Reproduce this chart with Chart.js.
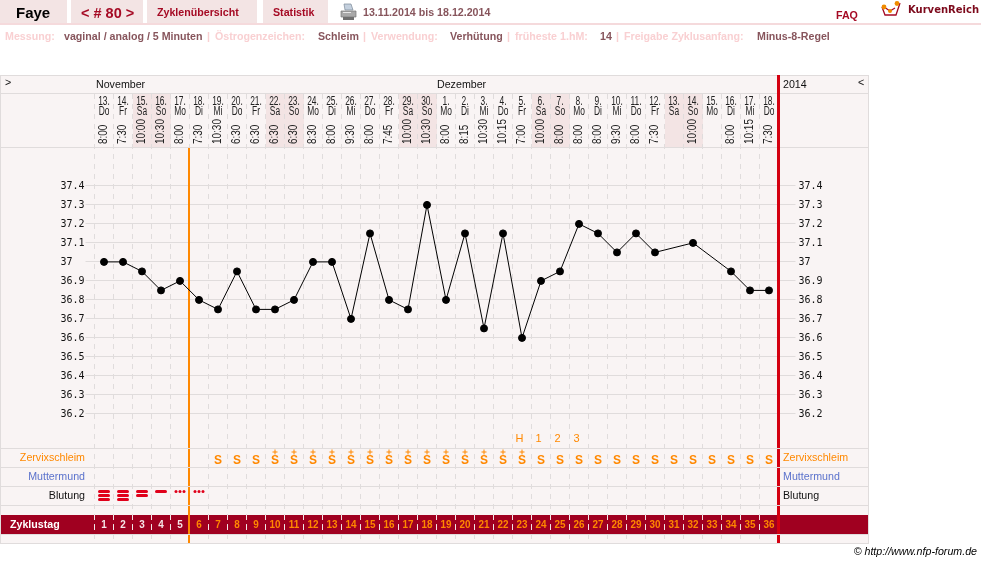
<!DOCTYPE html>
<html>
<head>
<meta charset="utf-8">
<title>Faye</title>
<script src="https://cdn.jsdelivr.net/npm/chart.js@4"></script>
<style>
  html, body { margin: 0; padding: 0; background: #fff; overflow: hidden; }
  body { width: 981px; height: 563px; position: relative; font-family: "Liberation Sans", Arial, sans-serif; }
  #myChart { position: absolute; left: 0; top: 0; }
  .tab { position: absolute; top: 0; height: 23px; background: #f3e4e4; }
  .t { position: absolute; white-space: nowrap; font-size: 10.67px; font-weight: bold; line-height: 14px; }
  .lab { color: #f9d0d2; }
  .val { color: #87555c; }
  .red { color: #a50a24; }
</style>
</head>
<body>
<canvas id="myChart" width="981" height="563"></canvas>

<!-- Kopfzeile -->
<div class="tab" style="left:0;width:67px"></div>
<div class="tab" style="left:71px;width:72px"></div>
<div class="tab" style="left:147px;width:110px"></div>
<div class="tab" style="left:263px;width:65px"></div>
<div style="position:absolute;left:0;top:23px;width:981px;height:2px;background:#f5dadc"></div>
<div class="t" style="left:16px;top:6px;font-size:15px;color:#000">Faye</div>
<div class="t red" style="left:81px;top:6px;font-size:14.5px">&lt; # 80 &gt;</div>
<div class="t red" style="left:157px;top:5px">Zyklenübersicht</div>
<div class="t red" style="left:273px;top:5px">Statistik</div>
<svg style="position:absolute;left:340px;top:3px" width="17" height="18" viewBox="0 0 17 18">
  <path d="M4 1h7l2 6H5z" fill="#c4d0de" stroke="#7d8a98" stroke-width=".7"/>
  <path d="M1 8h15v6H1z" fill="#a9a9a9" stroke="#777" stroke-width=".7"/>
  <path d="M3 14h11v3H3z" fill="#6f6f6f"/>
  <path d="M3 9h8v1H3z" fill="#e8e8e8"/>
</svg>
<div class="t val" style="left:363px;top:5px">13.11.2014 bis 18.12.2014</div>
<div class="t red" style="left:836px;top:8px">FAQ</div>
<svg style="position:absolute;left:880px;top:0" width="26" height="18" viewBox="0 0 26 18">
  <path d="M2 7l3 8h11l4-12" fill="none" stroke="#a50a24" stroke-width="1.3"/>
  <path d="M4 7l6 4 5-3" fill="none" stroke="#a50a24" stroke-width="1.2"/>
  <circle cx="4" cy="7" r="2.4" fill="#f08c00"/>
  <circle cx="10" cy="11" r="2" fill="#f08c00"/>
  <circle cx="17" cy="3.5" r="2.4" fill="#f08c00"/>
</svg>
<div class="t" style="left:908px;top:3px;font-family:'DejaVu Sans';font-size:10px;color:#7d0a1c">KurvenReich</div>

<div class="t lab" style="left:5px;top:29px">Messung:</div>
<div class="t val" style="left:64px;top:29px">vaginal / analog / 5 Minuten</div>
<div class="t lab" style="left:207px;top:29px">|</div>
<div class="t lab" style="left:215px;top:29px">Östrogenzeichen:</div>
<div class="t val" style="left:318px;top:29px">Schleim</div>
<div class="t lab" style="left:363px;top:29px">|</div>
<div class="t lab" style="left:371px;top:29px">Verwendung:</div>
<div class="t val" style="left:450px;top:29px">Verhütung</div>
<div class="t lab" style="left:507px;top:29px">|</div>
<div class="t lab" style="left:515px;top:29px">früheste 1.hM:</div>
<div class="t val" style="left:600px;top:29px">14</div>
<div class="t lab" style="left:616px;top:29px">|</div>
<div class="t lab" style="left:624px;top:29px">Freigabe Zyklusanfang:</div>
<div class="t val" style="left:757px;top:29px">Minus-8-Regel</div>

<div class="t" style="right:4px;top:544px;font-weight:normal;font-style:italic;color:#000">© http://www.nfp-forum.de</div>

<script>
// Zyklusdaten
const cycleDays = ['1','2','3','4','5','6','7','8','9','10','11','12','13','14','15','16','17','18',
    '19','20','21','22','23','24','25','26','27','28','29','30','31','32','33','34','35','36'];
const dates = ['13.','14.','15.','16.','17.','18.','19.','20.','21.','22.','23.','24.','25.','26.','27.','28.','29.','30.',
    '1.','2.','3.','4.','5.','6.','7.','8.','9.','10.','11.','12.','13.','14.','15.','16.','17.','18.'];
const weekdays = ['Do','Fr','Sa','So','Mo','Di','Mi','Do','Fr','Sa','So','Mo','Di','Mi','Do','Fr','Sa','So',
    'Mo','Di','Mi','Do','Fr','Sa','So','Mo','Di','Mi','Do','Fr','Sa','So','Mo','Di','Mi','Do'];
const times = ['8:00','7:30','10:00','10:30','8:00','7:30','10:30','6:30','6:30','6:30','6:30','8:30','8:00','9:30','8:00','7:45','10:00','10:30',
    '8:00','8:15','10:30','10:15','7:00','10:00','8:00','8:00','8:00','9:30','8:00','7:30','','10:00','','8:00','10:15','7:30'];
const temperatures = [37.0,37.0,36.95,36.85,36.9,36.8,36.75,36.95,36.75,36.75,36.8,37.0,37.0,36.7,37.15,36.8,36.75,37.3,
    36.8,37.15,36.65,37.15,36.6,36.9,36.95,37.2,37.15,37.05,37.15,37.05,null,37.1,null,36.95,36.85,36.85];
const mucus = ['','','','','','','S','S','S','S+','S+','S+','S+','S+','S+','S+','S+','S+',
    'S+','S+','S+','S+','S+','S','S','S','S','S','S','S','S','S','S','S','S','S'];
const bleeding = [3,3,2,1,'dots','dots'];
const peakLabels = {22: 'H', 23: '1', 24: '2', 25: '3'};
const yTicks = [36.2,36.3,36.4,36.5,36.6,36.7,36.8,36.9,37,37.1,37.2,37.3,37.4];

const sans = '"Liberation Sans", Arial, sans-serif';
const lineColor = '#e0dcdc';
const orange = '#ff8800';
const tableBg = '#f9f4f4';
const firstHighDay = 5;  // Spalte, vor der die orange Linie steht

function fmtTick(v) {
    // "37" bleibt linksbuendig wie die anderen Werte
    return v === 37 ? '37  ' : v.toFixed(1);
}

function hLine(c, y, x1, x2) {
    c.fillStyle = lineColor;
    c.fillRect(x1, y, x2 - x1, 1);
}

// Tabelle um das Diagramm herum
const tablePlugin = {
    id: 'cycleTable',
    beforeDraw(chart) {
        const c = chart.ctx;
        const x = chart.scales.x;
        const colW = x.getPixelForValue(1) - x.getPixelForValue(0);
        c.save();
        c.fillStyle = tableBg;
        c.fillRect(0, 75, 869, 469);

        // Wochenenden
        c.fillStyle = '#f3e4e4';
        weekdays.forEach((d, i) => {
            if (d === 'Sa' || d === 'So') {
                c.fillRect(x.getPixelForValue(i) - colW / 2 + 0.5, 94, colW, 53);
            }
        });

        hLine(c, 75, 0, 869);
        hLine(c, 93, 0, 869);
        hLine(c, 147, 0, 869);
        hLine(c, 543, 0, 869);
        c.fillRect(0, 75, 1, 469);
        c.fillRect(868, 75, 1, 469);

        // Zyklustag-Balken
        c.fillStyle = '#a00020';
        c.fillRect(1, 515, 867, 19);

        // gestrichelte Spaltenlinien
        c.lineWidth = 1;
        c.setLineDash([5, 5]);
        for (let i = 0; i < cycleDays.length; i++) {
            const px = x.getPixelForValue(i) - colW / 2;
            c.strokeStyle = lineColor;
            c.beginPath();
            c.moveTo(px, 94);
            c.lineTo(px, 543);
            c.stroke();
            c.strokeStyle = '#f4e6e8';
            c.beginPath();
            c.moveTo(px, 515);
            c.lineTo(px, 534);
            c.stroke();
        }
        c.setLineDash([]);
        c.restore();
    },
    beforeDatasetsDraw(chart) {
        const c = chart.ctx;
        const x = chart.scales.x;
        const colW = x.getPixelForValue(1) - x.getPixelForValue(0);
        c.save();

        // Linien fuer Zyklusbeginn und Zyklusende
        const orangeX = Math.floor(x.getPixelForValue(firstHighDay) - colW / 2) - 1;
        c.fillStyle = orange;
        c.fillRect(orangeX, 148, 2, 395);
        const endX = Math.floor(x.getPixelForValue(cycleDays.length - 1) + colW / 2) - 1;
        c.fillStyle = '#d40010';
        c.fillRect(endX, 75, 3, 468);

        [448, 467, 486, 505, 534].forEach(y => hLine(c, y, 0, 869));

        c.textBaseline = 'middle';

        // Monate und Jahr
        c.font = '10.67px ' + sans;
        c.fillStyle = '#111';
        c.textAlign = 'left';
        c.fillText('>', 5, 83);
        c.fillText('November', 96, 85.5);
        c.fillText('Dezember', 437, 85.5);
        c.fillText('2014', 783, 85.5);
        c.fillText('<', 858, 83);

        // Datum, Wochentag, Messzeit je Spalte
        dates.forEach((d, i) => {
            const px = x.getPixelForValue(i);
            c.textAlign = 'center';
            c.fillStyle = '#222';
            c.save();
            c.translate(px, 0);
            c.scale(0.7, 1);
            c.font = '12px ' + sans;
            c.fillText(d, 0, 102);
            c.fillText(weekdays[i], 0, 111.5);
            c.restore();
            c.save();
            c.translate(px - 0.5, 144);
            c.rotate(-Math.PI / 2);
            c.scale(0.83, 1);
            c.textAlign = 'left';
            c.font = '12px ' + sans;
            c.fillText(times[i], 0, 0);
            c.restore();
        });

        // Zeilentitel
        c.font = '10.67px ' + sans;
        [['Zervixschleim', orange, 458.5], ['Muttermund', '#5b72cc', 477.5], ['Blutung', '#111', 496.5]].forEach(r => {
            c.fillStyle = r[1];
            c.textAlign = 'right';
            c.fillText(r[0], 85, r[2]);
            c.textAlign = 'left';
            c.fillText(r[0], 783, r[2]);
        });

        // Hochlagen-Zaehlung
        c.fillStyle = orange;
        c.textAlign = 'center';
        c.font = '11px ' + sans;
        Object.keys(peakLabels).forEach(i => {
            c.fillText(peakLabels[i], x.getPixelForValue(+i) - 2.5, 439);
        });

        // Schleim
        mucus.forEach((m, i) => {
            if (!m) return;
            const px = x.getPixelForValue(i);
            c.font = 'bold 12px ' + sans;
            c.fillText('S', px, 460.5);
            if (m === 'S+') {
                c.fillRect(px - 2.5, 451.5, 5, 1);
                c.fillRect(px - 0.5, 449.5, 1, 5);
            }
        });

        // Blutung
        c.fillStyle = '#e0001a';
        bleeding.forEach((b, i) => {
            const px = x.getPixelForValue(i);
            if (b === 'dots') {
                [-4, 0, 4].forEach(dx => {
                    c.beginPath();
                    c.arc(px + dx, 491.5, 1.5, 0, Math.PI * 2);
                    c.fill();
                });
                return;
            }
            for (let n = 0; n < b; n++) {
                c.beginPath();
                c.roundRect(px - 6, 490 + n * 4, 12, 3, 1.5);
                c.fill();
            }
        });

        // Zyklustag-Zeile
        c.font = 'bold 10.67px ' + sans;
        c.fillStyle = '#fff';
        c.textAlign = 'left';
        c.fillText('Zyklustag', 10, 525);
        c.textAlign = 'center';
        c.font = 'bold 11px ' + sans;
        cycleDays.forEach((d, i) => {
            c.fillStyle = i < firstHighDay ? '#f6e6e8' : orange;
            c.save();
            c.translate(x.getPixelForValue(i), 525);
            c.scale(0.9, 1);
            c.fillText(d, 0, 0);
            c.restore();
        });
        c.restore();
    }
};

const ctx = document.getElementById('myChart').getContext('2d');
const chart = new Chart(ctx, {
    type: 'line',
    data: {
        labels: cycleDays,
        datasets: [{
            label: 'Temperatur',
            data: temperatures,
            borderColor: '#000',
            backgroundColor: '#000',
            borderWidth: 1,
            pointRadius: 3.5,
            pointBackgroundColor: '#000',
            spanGaps: true,
            fill: false,
            tension: 0,
            yAxisID: 'y'
        }]
    },
    options: {
        responsive: false,
        animation: false,
        layout: { padding: { left: 0, right: 0, top: 147.9, bottom: 111.1 } },
        plugins: { legend: { display: false }, tooltip: { enabled: false } },
        scales: {
            x: { type: 'category', display: false, offset: true },
            y: {
                position: 'left',
                min: 36,
                max: 37.6,
                afterFit: s => { s.width = 94.5; },
                afterBuildTicks: s => { s.ticks = yTicks.map(v => ({ value: v })); },
                border: { display: false },
                grid: { color: lineColor, lineWidth: 1, tickLength: 9 },
                ticks: {
                    padding: 1,
                    labelOffset: 1,
                    color: '#111',
                    font: { family: '"DejaVu Sans Mono"', size: 10 },
                    autoSkip: false,
                    callback: fmtTick
                }
            },
            yRight: {
                position: 'right',
                min: 36,
                max: 37.6,
                afterFit: s => { s.width = 202.5; },
                afterBuildTicks: s => { s.ticks = yTicks.map(v => ({ value: v })); },
                border: { display: false },
                grid: { color: lineColor, lineWidth: 1, tickLength: 17, drawOnChartArea: false },
                ticks: {
                    padding: 3,
                    labelOffset: 1,
                    color: '#111',
                    font: { family: '"DejaVu Sans Mono"', size: 10 },
                    autoSkip: false,
                    callback: fmtTick
                }
            }
        }
    },
    plugins: [tablePlugin]
});
</script>
</body>
</html>
